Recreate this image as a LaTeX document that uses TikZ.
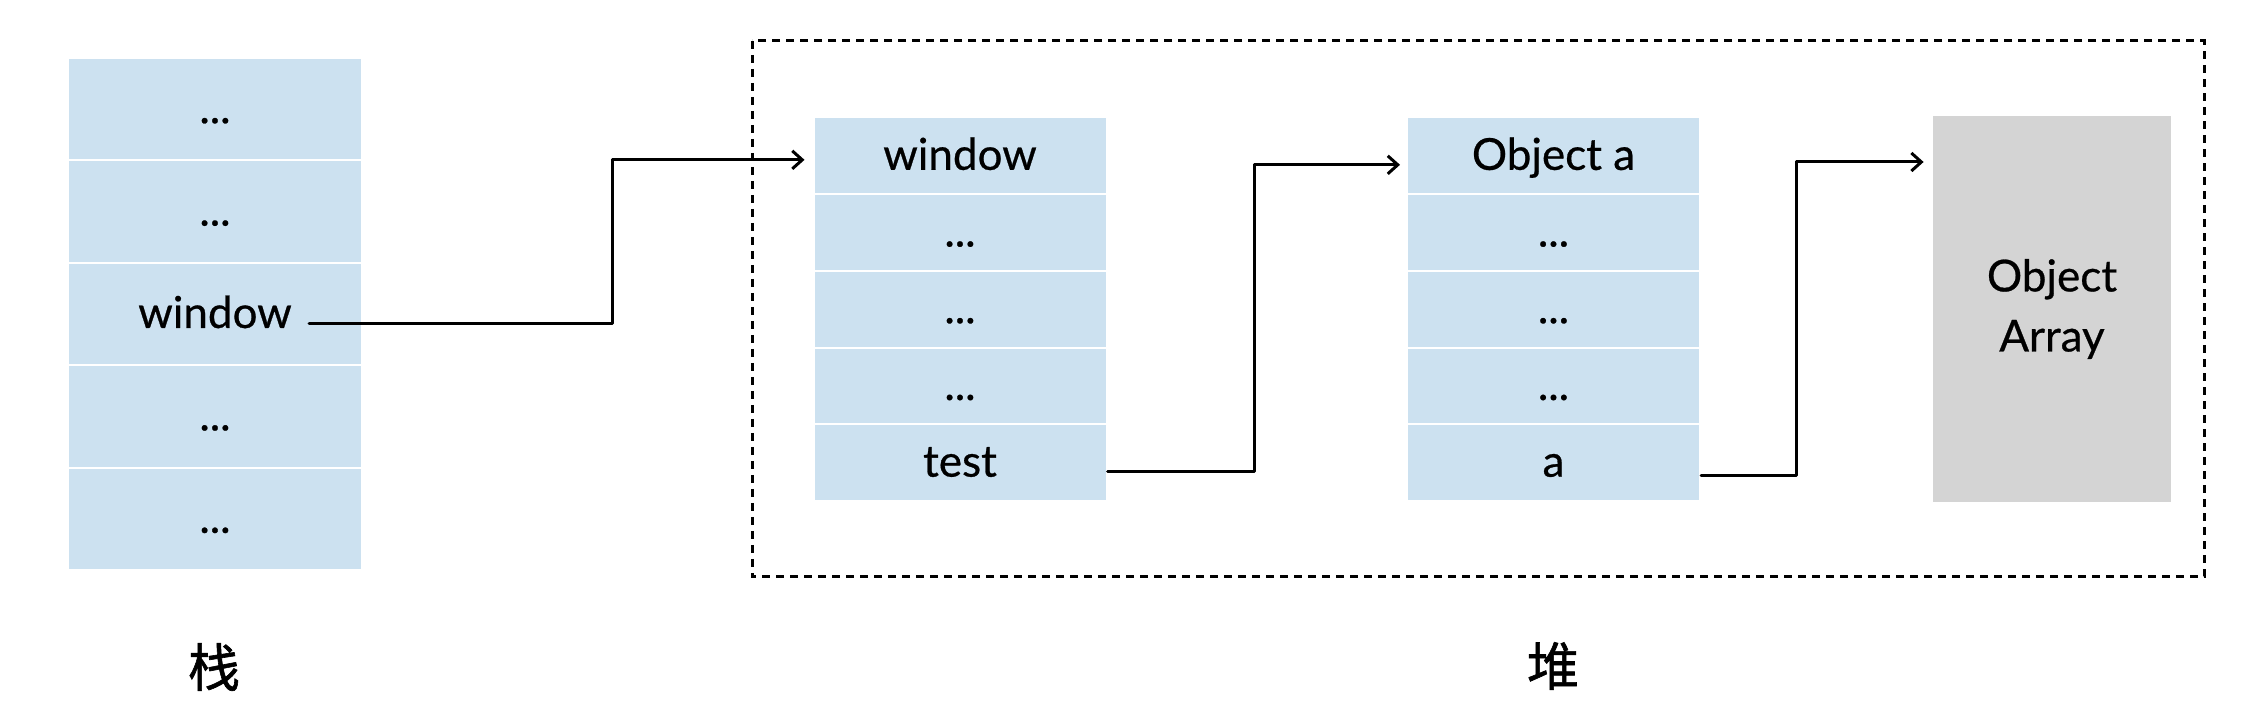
\documentclass[tikz,border=0pt]{standalone}
\usepackage{fontspec}
\setmainfont{Lato}[FakeBold=0.6]
\newfontfamily\cjk{Noto Sans CJK SC}[FakeBold=1.2]
\usetikzlibrary{arrows.meta,calc}
\definecolor{cellblue}{HTML}{CCE1F0}
\definecolor{cellgray}{HTML}{D4D4D4}
\begin{document}
\begin{tikzpicture}[x=0.5pt,y=0.5pt,
  txt/.style={font=\fontsize{22}{26}\selectfont, text=black},
  cellbase/.style={rectangle, fill=cellblue, draw=white, line width=1pt, inner sep=0pt,
    text height=14pt, text depth=0pt, txt},
  scell/.style={cellbase, minimum width=147pt, minimum height=51.2pt},
  hcell/.style={cellbase, minimum width=146.5pt, minimum height=38.35pt},
  graybox/.style={rectangle, fill=cellgray, inner sep=0pt, minimum width=119pt,
    minimum height=193pt, align=center, txt},
  dashbox/.style={draw=black, line width=1.5pt, dash pattern=on 4pt off 3pt},
  conn/.style={draw=black, line width=1.5pt, line cap=round, line join=round,
    -{Straight Barb[length=5pt,width=9pt,line width=1.5pt]}},
  lbl/.style={font=\cjk\fontsize{26}{30}\selectfont}]
\useasboundingbox (0,0) rectangle (2256,721);
% stack
\node[scell] (s1) at (215,611.8) {...};
\node[scell] (s2) at (215,509.4) {...};
\node[scell] (s3) at (215,407.0) {window};
\node[scell] (s4) at (215,304.6) {...};
\node[scell] (s5) at (215,202.2) {...};
% heap frame
\draw[dashbox] (752,680) rectangle (2204,144);
% heap column 1
\node[hcell] (h1) at (960,565.15) {window};
\node[hcell] (h2) at (960,488.45) {...};
\node[hcell] (h3) at (960,411.75) {...};
\node[hcell] (h4) at (960,335.05) {...};
\node[hcell] (h5) at (960,258.35) {test};
% heap column 2
\node[hcell] (k1) at (1553.5,565.15) {Object a};
\node[hcell] (k2) at (1553.5,488.45) {...};
\node[hcell] (k3) at (1553.5,411.75) {...};
\node[hcell] (k4) at (1553.5,335.05) {...};
\node[hcell] (k5) at (1553.5,258.35) {a};
% object array
\node[graybox] (g) at (2052,412) {Object\\[4pt]Array};
% labels
\node[lbl] (stk) at (214,54) {栈};
\node[lbl] (hp) at (1553,55) {堆};
% connectors
\coordinate (j1) at (612,0);
\coordinate (j2) at (1254,0);
\coordinate (j3) at (1796,0);
\coordinate (p1) at ([xshift=47pt,yshift=-5pt]s3.center);
\coordinate (p2) at ([yshift=-4.5pt]h5.east);
\coordinate (p3) at ([yshift=-6.5pt]k5.east);
\draw[conn] (p1) -- (p1 -| j1) |- ([xshift=-4pt,yshift=-2pt]h1.west);
\draw[conn] (p2) -- (p2 -| j2) |- ([xshift=-3pt,yshift=-4.5pt]k1.west);
\draw[conn] (p3) -- (p3 -| j3) |- ([xshift=-4.5pt,yshift=73.5pt]g.west);
\end{tikzpicture}
\end{document}
